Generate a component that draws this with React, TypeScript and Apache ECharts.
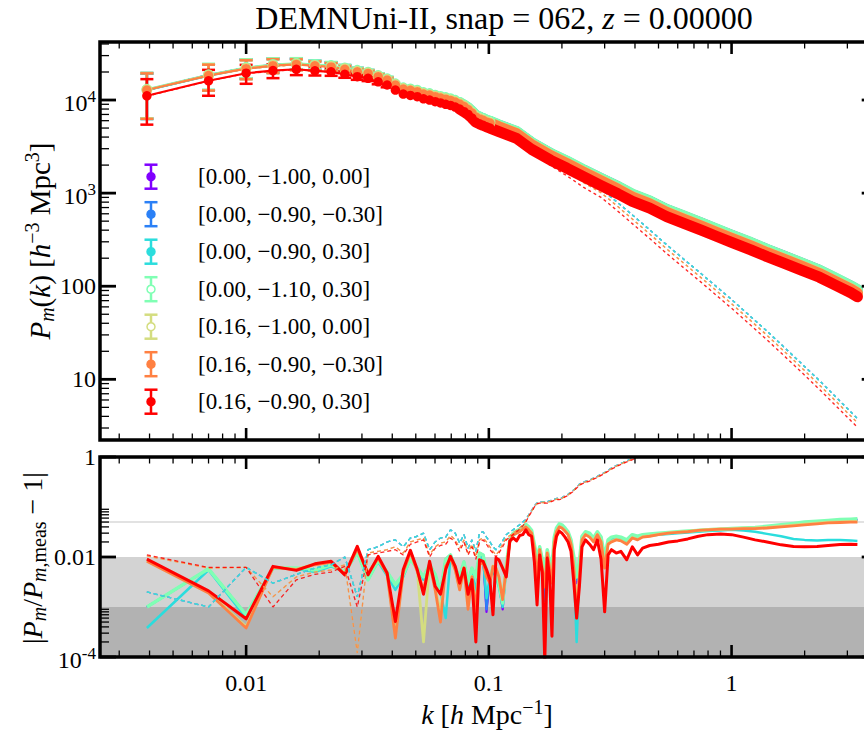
import { useEffect, useRef } from 'react';
import * as echarts from 'echarts';

const FONT = 'Liberation Serif';

// cosmologies: [M_nu, w0, wa]
const modelLabels = [
  '[0.00, −1.00, 0.00]',
  '[0.00, −0.90, −0.30]',
  '[0.00, −0.90, 0.30]',
  '[0.00, −1.10, 0.30]',
  '[0.16, −1.00, 0.00]',
  '[0.16, −0.90, −0.30]',
  '[0.16, −0.90, 0.30]',
];
const modelColors = ['#8000ff', '#2b80f6', '#2bdddd', '#80ffb4', '#d4dd80', '#ff8042', '#ff0000'];
const openMarker = [false, false, false, true, true, false, false];

// measured k bins (h/Mpc)
const kBins = [0.0039, 0.0070, 0.0100, 0.0129, 0.0161, 0.0192, 0.0224, 0.0255, 0.0287, 0.0318, 0.0350, 0.0381,
  0.0412, 0.0444, 0.0475, 0.0507, 0.0538, 0.0570, 0.0601, 0.0632, 0.0664, 0.0695, 0.0727, 0.0758, 0.0790, 0.0821,
  0.0852, 0.0884, 0.0915, 0.0947, 0.0978, 0.1010];
const kTopTail = [0.11, 0.13, 0.15, 0.18, 0.21, 0.245, 0.29, 0.34, 0.39, 0.46, 0.54, 0.64, 0.75, 0.87, 1.0, 1.2, 1.4,
  1.65, 1.95, 2.3, 2.65, 3.1, 3.3];
const kRatioTail = [0.104, 0.107, 0.110, 0.114, 0.118, 0.122, 0.126, 0.130, 0.134, 0.138, 0.142, 0.146, 0.150, 0.154,
  0.158, 0.162, 0.166, 0.170, 0.174, 0.178, 0.182, 0.186, 0.190, 0.195, 0.200, 0.206, 0.212, 0.218, 0.224, 0.230,
  0.236, 0.242, 0.25, 0.26, 0.27, 0.28, 0.29, 0.30, 0.31, 0.32, 0.335, 0.35, 0.37, 0.39, 0.41, 0.43, 0.46, 0.50,
  0.55, 0.60, 0.66, 0.73, 0.80, 0.90, 1.0, 1.12, 1.25, 1.4, 1.6, 1.8, 2.0, 2.25, 2.5, 2.8, 3.1, 3.3];
const kLinear = [0.0039, 0.0070, 0.0100, 0.0161, 0.0224, 0.0318, 0.0444, 0.0570, 0.0695, 0.0821, 0.0947, 0.11, 0.13,
  0.15, 0.18, 0.21, 0.245, 0.29, 0.34, 0.39, 0.46, 0.54, 0.64, 0.75, 0.87, 1.0, 1.2, 1.4, 1.65, 1.95, 2.3, 2.65, 3.1, 3.3];

// measured P_m(k) on kBins + kTopTail
const pkPurple = [12900, 18500, 22100, 23800, 24500, 23800, 23200, 21900, 20600, 19700, 18100, 16700, 14750,
  13350, 12950, 12550, 11900, 11600, 11150, 10800, 10500, 10200, 9800, 9300, 8750, 8150, 7450, 6800, 6500, 6270, 6020, 5860,
  5360, 4540, 3460, 2640, 2180, 1770, 1430, 1170, 965, 815, 665, 560, 476, 406, 352, 293, 247, 209, 176, 148, 123, 100, 91];
const pkBlue = [12800, 18400, 22000, 23650, 24400, 23650, 23050, 21750, 20500, 19600, 18000, 16650, 14700,
  13300, 12900, 12500, 11800, 11500, 11100, 10750, 10450, 10150, 9750, 9250, 8700, 8100, 7450, 6750, 6460, 6230, 5990, 5830,
  5330, 4520, 3450, 2630, 2170, 1760, 1420, 1160, 960, 812, 660, 556, 473, 404, 350, 291, 245, 208, 174, 147, 122, 99.5, 90.5];
const pkCyan = [12750, 18300, 21850, 23500, 24300, 23500, 22900, 21650, 20400, 19500, 17950, 16550, 14600,
  13250, 12850, 12450, 11750, 11450, 11000, 10700, 10400, 10100, 9700, 9200, 8650, 8100, 7400, 6700, 6430, 6200, 5960, 5800,
  5300, 4500, 3430, 2620, 2160, 1755, 1410, 1155, 955, 808, 657, 553, 470, 402, 348, 289, 244, 207, 173, 146, 121.5, 99, 90];
const pkMint = [13000, 18700, 22300, 24000, 24800, 24000, 23400, 22100, 20800, 19900, 18300, 16900, 14900,
  13500, 13100, 12700, 12000, 11700, 11250, 10900, 10600, 10300, 9900, 9400, 8850, 8250, 7550, 6850, 6560, 6330, 6080, 5920,
  5410, 4590, 3500, 2670, 2200, 1790, 1440, 1180, 975, 825, 670, 565, 480, 410, 355, 295, 249, 211, 177, 149, 124, 101, 92];
const pkYellow = [12900, 18450, 21900, 23600, 24300, 23500, 22900, 21600, 20300, 19500, 18000, 16550, 14650,
  13250, 12800, 12400, 11700, 11400, 10950, 10600, 10300, 10000, 9600, 9150, 8600, 8000, 7300, 6620, 6330, 6110, 5860, 5700,
  5190, 4390, 3340, 2545, 2090, 1700, 1365, 1110, 915, 773, 626, 525, 446, 381, 329, 274, 231, 196, 165, 138, 115, 94, 85];
const pkOrange = [12800, 18300, 21700, 23400, 24100, 23300, 22700, 21400, 20100, 19300, 17800, 16400, 14500,
  13100, 12700, 12300, 11600, 11300, 10850, 10500, 10200, 9900, 9500, 9050, 8500, 7900, 7250, 6550, 6270, 6050, 5800, 5650,
  5140, 4350, 3310, 2520, 2070, 1680, 1350, 1100, 905, 765, 620, 520, 442, 377, 326, 271, 229, 194, 163, 137, 114, 93, 84];
const pkRed = [11100, 16100, 19400, 20700, 21400, 20600, 20100, 18900, 17800, 17100, 15700, 14500, 12800,
  11600, 11200, 10850, 10300, 10000, 9600, 9300, 9000, 8750, 8400, 8000, 7500, 7000, 6400, 5800, 5550, 5350, 5150, 5000,
  4570, 3870, 2950, 2250, 1850, 1500, 1205, 985, 815, 690, 560, 470, 400, 342, 296, 246, 208, 176, 148, 125, 104, 85, 77];

// fractional 1-sigma errors of the first bins
const relErr = [0.51, 0.31, 0.23, 0.17, 0.135, 0.11, 0.095, 0.083, 0.074, 0.066, 0.06, 0.055];

// linear-theory spectra on kLinear
const pkLinMassless = [12900, 18700, 22200, 24600, 23200, 19700, 13300, 11500, 10100, 8100, 6150,
  5250, 4400, 3280, 2380, 1850, 1410, 1100, 790, 583, 403, 279, 192, 136, 98, 72, 47, 32.9, 22, 14.6, 9.7, 6.7, 4.46, 3.78];
const pkLinNu = [12700, 18200, 21600, 24000, 22600, 19200, 12900, 11050, 9750, 7800, 5900,
  5000, 4150, 3080, 2220, 1715, 1300, 1010, 717, 527, 364, 252, 174, 123, 88.5, 65, 42.6, 29.7, 19.9, 13.2, 8.7, 6.05, 4.03, 3.42];
const pkLinRed = [11000, 16000, 19300, 21250, 19950, 16950, 11450, 9850, 8600, 6900, 5250,
  4450, 3700, 2750, 1980, 1530, 1160, 900, 640, 470, 325, 225, 155, 110, 79, 58, 38, 26.5, 17.8, 11.8, 7.8, 5.4, 3.6, 3.05];

// |P_m / P_m,meas - 1| on kBins + kRatioTail
const ratioPurple = [0.001, 0.0058, 0.0007, 0.006, 0.006, 0.0055, 0.007, 0.005, 0.0125, 0.0035, 0.0085, 0.005, 0.0028,
  0.0045, 0.009, 0.006, 0.004, 0.007, 0.0045, 0.002, 0.009, 0.011, 0.006, 0.004, 0.008, 0.003, 0.006, 0.004, 0.012,
  0.011, 0.0008, 0.004,
  0.0055, 0.0045, 0.003, 0.0009, 0.0065, 0.021, 0.029, 0.032, 0.035, 0.039, 0.044, 0.039, 0.033, 0.017, 0.008, 0.0155,
  0.0085, 0.004, 0.0135, 0.0075, 0.0055, 0.024, 0.037, 0.045, 0.043, 0.037, 0.031, 0.021, 0.009, 0.003, 0.007, 0.025,
  0.031, 0.029, 0.023, 0.031, 0.024, 0.009, 0.021, 0.024, 0.025, 0.024, 0.021, 0.027, 0.025, 0.027, 0.028, 0.029, 0.03,
  0.031, 0.032, 0.033, 0.034, 0.035, 0.036, 0.037, 0.038, 0.04, 0.043, 0.046, 0.048, 0.05, 0.052, 0.054, 0.055, 0.055];
const ratioBlue = [0.001, 0.0058, 0.0007, 0.006, 0.006, 0.0055, 0.007, 0.005, 0.0125, 0.0035, 0.0085, 0.005, 0.0028,
  0.0045, 0.009, 0.006, 0.004, 0.007, 0.0045, 0.002, 0.009, 0.011, 0.006, 0.004, 0.008, 0.003, 0.006, 0.004, 0.012,
  0.011, 0.0009, 0.004,
  0.0058, 0.0048, 0.0029, 0.0011, 0.0068, 0.0215, 0.0295, 0.0325, 0.0355, 0.0395, 0.0445, 0.0395, 0.0335, 0.0175, 0.0085,
  0.0158, 0.0088, 0.0013, 0.0138, 0.0078, 0.0058, 0.0245, 0.0375, 0.0455, 0.0435, 0.0375, 0.0315, 0.0215, 0.0095, 0.0035,
  0.0075, 0.0255, 0.0315, 0.0295, 0.0235, 0.0315, 0.0245, 0.0095, 0.0215, 0.0245, 0.0255, 0.0245, 0.0215, 0.0275, 0.0255,
  0.0275, 0.0285, 0.0295, 0.0305, 0.0315, 0.0325, 0.0335, 0.0345, 0.0355, 0.0365, 0.0375, 0.0385, 0.0405, 0.0435, 0.0465,
  0.049, 0.051, 0.053, 0.055, 0.056, 0.056];
const ratioCyan = [0.00038, 0.0055, 0.0006, 0.006, 0.0058, 0.005, 0.0065, 0.005, 0.012, 0.0038, 0.008, 0.0042, 0.0022,
  0.004, 0.009, 0.006, 0.0035, 0.0065, 0.004, 0.002, 0.0006, 0.01, 0.006, 0.003, 0.007, 0.002, 0.005, 0.002, 0.011, 0.009,
  0.0015, 0.004,
  0.005, 0.004, 0.0025, 0.001, 0.006, 0.02, 0.027, 0.03, 0.033, 0.037, 0.042, 0.037, 0.031, 0.016, 0.007, 0.015, 0.008,
  0.003, 0.013, 0.007, 0.005, 0.023, 0.035, 0.043, 0.041, 0.035, 0.03, 0.02, 0.005, 0.0002, 0.005, 0.024, 0.03, 0.027,
  0.022, 0.03, 0.022, 0.008, 0.02, 0.023, 0.024, 0.023, 0.02, 0.026, 0.024, 0.026, 0.027, 0.028, 0.029, 0.03, 0.031,
  0.032, 0.033, 0.034, 0.035, 0.034, 0.032, 0.029, 0.026, 0.023, 0.022, 0.0215, 0.022, 0.022, 0.0215, 0.021];
const ratioMint = [0.001, 0.0058, 0.0007, 0.006, 0.006, 0.0055, 0.007, 0.005, 0.0125, 0.0035, 0.0085, 0.005, 0.0028,
  0.0045, 0.009, 0.006, 0.004, 0.007, 0.0045, 0.002, 0.009, 0.011, 0.006, 0.004, 0.008, 0.003, 0.006, 0.004, 0.012, 0.011,
  0.005, 0.004,
  0.006, 0.005, 0.003, 0.0012, 0.007, 0.022, 0.03, 0.033, 0.036, 0.04, 0.045, 0.04, 0.034, 0.018, 0.009, 0.016, 0.009,
  0.005, 0.014, 0.008, 0.006, 0.025, 0.038, 0.046, 0.044, 0.038, 0.032, 0.022, 0.01, 0.004, 0.008, 0.026, 0.032, 0.03,
  0.024, 0.032, 0.025, 0.01, 0.022, 0.025, 0.026, 0.025, 0.022, 0.028, 0.026, 0.028, 0.029, 0.03, 0.031, 0.032, 0.033,
  0.034, 0.035, 0.036, 0.037, 0.038, 0.039, 0.041, 0.044, 0.047, 0.05, 0.052, 0.054, 0.056, 0.057, 0.058];
const ratioYellow = [0.0084, 0.002, 0.0004, 0.0063, 0.0057, 0.0071, 0.0079, 0.0046, 0.0148, 0.0046, 0.0097, 0.0046,
  0.0003, 0.0051, 0.0128, 0.0053, 0.0002, 0.0077, 0.0023, 0.0008, 0.0066, 0.0097, 0.0056, 0.0023, 0.0061, 0.0011, 0.0041,
  0.0011, 0.0072, 0.0081, 0.0042, 0.0031,
  0.0066, 0.0061, 0.0041, 0.0015, 0.0062, 0.0205, 0.0285, 0.0305, 0.0325, 0.0365, 0.0405, 0.0355, 0.0305, 0.0155, 0.0042,
  0.0142, 0.0062, 0.0027, 0.0123, 0.0062, 0.0032, 0.0205, 0.0325, 0.0405, 0.0385, 0.0335, 0.0285, 0.0185, 0.0062, 0.0009,
  0.0042, 0.0225, 0.0285, 0.0255, 0.0205, 0.0285, 0.0205, 0.0062, 0.0185, 0.0205, 0.0225, 0.0215, 0.0185, 0.0245, 0.0225,
  0.0255, 0.0265, 0.0285, 0.0305, 0.0315, 0.0325, 0.0345, 0.0355, 0.0365, 0.0367, 0.0378, 0.038, 0.0392, 0.0412, 0.0433,
  0.0455, 0.0475, 0.0495, 0.0505, 0.0515, 0.0515];
const ratioOrange = [0.0082, 0.0019, 0.00038, 0.0062, 0.0056, 0.007, 0.0078, 0.0045, 0.0145, 0.0048, 0.0095, 0.0045,
  0.00024, 0.005, 0.0125, 0.0052, 0.0022, 0.0075, 0.0022, 0.0005, 0.0065, 0.0095, 0.0055, 0.0022, 0.006, 0.0009, 0.004,
  0.0009, 0.007, 0.008, 0.004, 0.003,
  0.0065, 0.006, 0.004, 0.0014, 0.006, 0.02, 0.028, 0.03, 0.032, 0.036, 0.04, 0.035, 0.03, 0.015, 0.004, 0.014, 0.006,
  0.0025, 0.012, 0.006, 0.003, 0.02, 0.032, 0.04, 0.038, 0.033, 0.028, 0.018, 0.006, 0.0006, 0.004, 0.022, 0.028, 0.025,
  0.02, 0.028, 0.02, 0.006, 0.018, 0.02, 0.022, 0.021, 0.018, 0.024, 0.022, 0.025, 0.026, 0.028, 0.03, 0.031, 0.032,
  0.034, 0.035, 0.036, 0.036, 0.037, 0.037, 0.038, 0.04, 0.042, 0.044, 0.046, 0.048, 0.049, 0.05, 0.05];
const ratioRed = [0.0091, 0.0021, 0.00058, 0.0065, 0.0054, 0.0073, 0.0082, 0.0044, 0.0163, 0.0044, 0.0103, 0.0048,
  0.00051, 0.0056, 0.0136, 0.0056, 0.0018, 0.0082, 0.0026, 0.0018, 0.0056, 0.0103, 0.0065, 0.003, 0.006, 0.0018, 0.0035,
  0.0002, 0.0088, 0.0082, 0.0056, 0.0035,
  0.0007, 0.0095, 0.0088, 0.006, 0.004, 0.021, 0.024, 0.021, 0.027, 0.028, 0.035, 0.028, 0.026, 0.008, 0.0011, 0.011,
  0.005, 0.00008, 0.0095, 0.004, 0.00026, 0.014, 0.026, 0.033, 0.03, 0.025, 0.02, 0.013, 0.003, 0.0006, 0.0025, 0.016,
  0.022, 0.018, 0.014, 0.022, 0.009, 0.0008, 0.011, 0.014, 0.012, 0.013, 0.0088, 0.016, 0.011, 0.015, 0.017, 0.018, 0.02,
  0.021, 0.023, 0.026, 0.028, 0.029, 0.028, 0.025, 0.022, 0.02, 0.0175, 0.0163, 0.016, 0.0163, 0.017, 0.0178, 0.018, 0.0178];

// linear theory against the measurement (leaves the panel above k ~ 0.45)
const ratioLinMassless = [0.002, 0.001, 0.0062, 0.003, 0.0045, 0.006, 0.007, 0.01, 0.0016, 0.014, 0.016, 0.02, 0.022,
  0.016, 0.024, 0.026, 0.03, 0.014, 0.02, 0.024, 0.025, 0.035, 0.03, 0.019, 0.028, 0.015, 0.022, 0.013, 0.03, 0.032, 0.025, 0.02,
  0.016, 0.014, 0.016, 0.021, 0.028, 0.032, 0.035, 0.04, 0.044, 0.05, 0.056, 0.07, 0.085, 0.105, 0.12, 0.126, 0.127,
  0.127, 0.127, 0.132, 0.137, 0.142, 0.148, 0.148, 0.153, 0.168, 0.179, 0.2, 0.22, 0.25, 0.285, 0.305, 0.325, 0.345, 0.38,
  0.41, 0.45, 0.49, 0.54, 0.6, 0.67, 0.74, 0.84, 0.92, 1.02, 1.13, 1.3];
const ratioLinNu = [0.0105, 0.006, 0.0062, 0.0016, 0.004, 0.005, 0.0055, 0.007, 0.00012, 0.012, 0.013, 0.014, 0.016,
  0.012, 0.02, 0.022, 0.024, 0.011, 0.016, 0.019, 0.02, 0.027, 0.022, 0.015, 0.022, 0.012, 0.018, 0.01, 0.022, 0.024, 0.02, 0.016,
  0.013, 0.011, 0.013, 0.018, 0.024, 0.027, 0.03, 0.034, 0.038, 0.044, 0.052, 0.067, 0.082, 0.102, 0.117, 0.123, 0.123,
  0.123, 0.123, 0.128, 0.133, 0.138, 0.144, 0.144, 0.149, 0.164, 0.174, 0.195, 0.215, 0.245, 0.277, 0.297, 0.317, 0.337,
  0.37, 0.4, 0.44, 0.48, 0.53, 0.585, 0.655, 0.725, 0.82, 0.9, 1.0, 1.1, 1.27];
const ratioLinRed = [0.011, 0.0062, 0.0062, 0.001, 0.0035, 0.0045, 0.005, 0.0065, 0.001, 0.011, 0.012, 0.013, 0.014,
  0.011, 0.018, 0.02, 0.022, 0.01, 0.015, 0.017, 0.018, 0.024, 0.02, 0.013, 0.02, 0.011, 0.016, 0.009, 0.02, 0.022, 0.018, 0.014,
  0.012, 0.01, 0.012, 0.016, 0.022, 0.025, 0.028, 0.032, 0.036, 0.042, 0.05, 0.065, 0.08, 0.1, 0.115, 0.12, 0.12, 0.12,
  0.12, 0.125, 0.13, 0.135, 0.14, 0.14, 0.145, 0.16, 0.17, 0.19, 0.21, 0.24, 0.27, 0.29, 0.31, 0.33, 0.36, 0.39, 0.43,
  0.47, 0.52, 0.57, 0.64, 0.71, 0.8, 0.88, 0.98, 1.08, 1.25];

// shaded accuracy bands and reference level in the lower panel
const shadeBands = [[1e-3, 1e-2], [1e-4, 1e-3]];
const shadeColors = ['#d3d3d3', '#b2b2b2'];
const refLevel = 0.05;

// axis ticks
const xMajorTicks = [0.01, 0.1, 1];
const xMajorLabels = ['0.01', '0.1', '1'];
const xMinorTicks = [0.003, 0.004, 0.005, 0.006, 0.007, 0.008, 0.009, 0.02, 0.03, 0.04, 0.05, 0.06, 0.07, 0.08, 0.09,
  0.2, 0.3, 0.4, 0.5, 0.6, 0.7, 0.8, 0.9, 2, 3];
const pMajorTicks = [10, 100, 1000, 10000];
const pMajorLabels = ['10', '100', '10{sup|3}', '10{sup|4}'];
const pMinorTicks = [3, 4, 5, 6, 7, 8, 9, 20, 30, 40, 50, 60, 70, 80, 90, 200, 300, 400, 500, 600, 700, 800, 900,
  2000, 3000, 4000, 5000, 6000, 7000, 8000, 9000, 20000, 30000, 40000];
const rMajorTicks = [1e-4, 0.01, 1];
const rMajorLabels = ['10{sup|-4}', '0.01', '1'];
const rMinorTicks = [2e-4, 3e-4, 4e-4, 5e-4, 6e-4, 7e-4, 8e-4, 9e-4, 0.02, 0.03, 0.04, 0.05, 0.06, 0.07, 0.08, 0.09];

const K_MIN = 0.0025;
const K_MAX = 4;
const P_MIN = 2.23;
const P_MAX = 42000;
const R_MIN = 1e-4;
const R_MAX = 1;

const kTop = kBins.concat(kTopTail);
const kRatio = kBins.concat(kRatioTail);
const pkModels = [pkPurple, pkBlue, pkCyan, pkMint, pkYellow, pkOrange, pkRed];
const pkLinear = [pkLinMassless, pkLinMassless, pkLinMassless, pkLinMassless, pkLinNu, pkLinNu, pkLinRed];
const ratioModels = [ratioPurple, ratioBlue, ratioCyan, ratioMint, ratioYellow, ratioOrange, ratioRed];
const ratioLinear = [ratioLinMassless, ratioLinMassless, ratioLinMassless, ratioLinMassless, ratioLinNu, ratioLinNu, ratioLinRed];
const linearOrder = [0, 1, 3, 2, 4, 5, 6];
const ratioWidths = [2.2, 2.2, 2.5, 3.5, 2.8, 2.8, 3];
const BAND_FROM = 23;

function richStyles(fs: number) {
  const small = Math.round(fs * 0.7);
  return {
    i: { fontFamily: FONT, fontSize: fs, fontStyle: 'italic' },
    sup: { fontFamily: FONT, fontSize: small, padding: [0, 0, Math.round(fs * 0.55), 0] },
    sub: { fontFamily: FONT, fontSize: small, padding: [Math.round(fs * 0.45), 0, 0, 0] },
    subi: { fontFamily: FONT, fontSize: small, fontStyle: 'italic', padding: [Math.round(fs * 0.45), 0, 0, 0] },
  };
}

function textStyle(text: string, fs: number, align: string, valign = 'middle') {
  return {
    text,
    fill: '#000',
    fontFamily: FONT,
    fontSize: fs,
    align,
    verticalAlign: valign,
    textAlign: align,
    textVerticalAlign: valign,
    rich: richStyles(fs),
  };
}

function lineEl(x1: number, y1: number, x2: number, y2: number, w: number, c = '#000') {
  return { type: 'line', shape: { x1, y1, x2, y2 }, style: { stroke: c, lineWidth: w } };
}

// frame, inward ticks on all four sides and tick labels of one panel
function frameSeries(gi: number, yMin: number, yMax: number, yMaj: number[], yMajLab: string[], yMinor: number[], xLabels: boolean) {
  return {
    type: 'custom',
    xAxisIndex: gi,
    yAxisIndex: gi,
    z: 10,
    silent: true,
    clip: false,
    data: [[K_MIN, yMin]],
    renderItem: (_p: any, api: any) => {
      const bl = api.coord([K_MIN, yMin]);
      const tr = api.coord([K_MAX, yMax]);
      const ch: any[] = [];
      const xt = xMajorTicks.map((v, i) => ({ v, major: true, label: xMajorLabels[i] }))
        .concat(xMinorTicks.map((v) => ({ v, major: false, label: '' })));
      xt.forEach((t) => {
        const x = api.coord([t.v, yMin])[0];
        const len = t.major ? 12 : 6.5;
        const w = t.major ? 2.6 : 1.3;
        ch.push(lineEl(x, bl[1], x, bl[1] - len, w));
        ch.push(lineEl(x, tr[1], x, tr[1] + len, w));
        if (xLabels && t.label) {
          ch.push({ type: 'text', x, y: bl[1] + 26, style: textStyle(t.label, 24, 'center') });
        }
      });
      const yt = yMaj.map((v, i) => ({ v, major: true, label: yMajLab[i] }))
        .concat(yMinor.map((v) => ({ v, major: false, label: '' })));
      yt.forEach((t) => {
        const y = api.coord([K_MIN, t.v])[1];
        const len = t.major ? 16 : 9;
        const w = t.major ? 2.8 : 1.3;
        ch.push(lineEl(bl[0], y, bl[0] + len, y, w));
        ch.push(lineEl(tr[0], y, tr[0] - len, y, w));
        if (t.label) {
          const dy = t.label.indexOf('sup') >= 0 ? 3 : 0;
          ch.push({ type: 'text', x: bl[0] - 4, y: y + dy, style: textStyle(t.label, 24, 'right') });
        }
      });
      ch.push({
        type: 'rect',
        shape: { x: bl[0], y: tr[1], width: tr[0] - bl[0], height: bl[1] - tr[1] },
        style: { fill: 'none', stroke: '#000', lineWidth: 3.5 },
      });
      return { type: 'group', children: ch };
    },
  };
}

function buildOption() {
  const series: any[] = [];

  // lower panel shading and reference level
  series.push({
    type: 'custom',
    xAxisIndex: 1,
    yAxisIndex: 1,
    z: 1,
    silent: true,
    clip: false,
    data: shadeBands.map((b) => [K_MIN, b[0], b[1]]).concat([[K_MIN, refLevel, refLevel]]),
    renderItem: (params: any, api: any) => {
      const lo = api.value(1);
      const hi = api.value(2);
      const a = api.coord([K_MIN, hi]);
      const b = api.coord([K_MAX, lo]);
      if (params.dataIndex < shadeBands.length) {
        return {
          type: 'rect',
          shape: { x: a[0], y: a[1], width: b[0] - a[0], height: b[1] - a[1] },
          style: { fill: shadeColors[params.dataIndex] },
        };
      }
      return lineEl(a[0], a[1], b[0], a[1], 1.5, '#d9d9d9');
    },
  });

  // upper panel: linear theory (dashed)
  linearOrder.forEach((m) => {
    series.push({
      type: 'line',
      xAxisIndex: 0,
      yAxisIndex: 0,
      z: 2,
      silent: true,
      symbol: 'none',
      data: kLinear.map((k, j) => [k, pkLinear[m][j]]),
      lineStyle: { color: modelColors[m], width: 1.4, type: [3, 3], opacity: 0.85 },
    });
  });

  // upper panel: measured spectra with error bars
  pkModels.forEach((pk, m) => {
    const col = modelColors[m];
    series.push({
      type: 'custom',
      xAxisIndex: 0,
      yAxisIndex: 0,
      z: 3,
      silent: true,
      data: relErr.map((e, j) => [kBins[j], pk[j], pk[j] * e]),
      renderItem: (_p: any, api: any) => {
        const k = api.value(0);
        const p = api.value(1);
        const e = api.value(2);
        const hi = api.coord([k, p + e]);
        const lo = api.coord([k, p - e]);
        return {
          type: 'group',
          children: [
            lineEl(hi[0], hi[1], lo[0], lo[1], 2.5, col),
            lineEl(hi[0] - 6.5, hi[1], hi[0] + 6.5, hi[1], 2.5, col),
            lineEl(lo[0] - 6.5, lo[1], lo[0] + 6.5, lo[1], 2.5, col),
          ],
        };
      },
    });
    series.push({
      type: 'line',
      xAxisIndex: 0,
      yAxisIndex: 0,
      z: 3,
      silent: true,
      symbol: 'circle',
      symbolSize: 9.5,
      showSymbol: true,
      showAllSymbol: true,
      data: kBins.map((k, j) => [k, pk[j]]),
      lineStyle: { color: col, width: 2.2 },
      itemStyle: { color: openMarker[m] ? '#ffffff' : col, borderColor: col, borderWidth: openMarker[m] ? 1.5 : 0 },
    });
    series.push({
      type: 'line',
      xAxisIndex: 0,
      yAxisIndex: 0,
      z: 3,
      silent: true,
      symbol: 'none',
      data: kTop.slice(BAND_FROM).map((k, j) => [k, pk[BAND_FROM + j]]),
      lineStyle: { color: col, width: 11, cap: 'round', join: 'round' },
    });
  });

  // lower panel: fits against the measurement
  ratioModels.forEach((r, m) => {
    series.push({
      type: 'line',
      xAxisIndex: 1,
      yAxisIndex: 1,
      z: 3,
      silent: true,
      symbol: 'none',
      data: kRatio.map((k, j) => [k, r[j]]),
      lineStyle: { color: modelColors[m], width: ratioWidths[m], join: 'round' },
    });
  });
  linearOrder.forEach((m) => {
    const r = ratioLinear[m];
    series.push({
      type: 'line',
      xAxisIndex: 1,
      yAxisIndex: 1,
      z: 4,
      silent: true,
      symbol: 'none',
      data: r.map((v, j) => [kRatio[j], v]),
      lineStyle: { color: modelColors[m], width: 1.3, type: [4, 3], opacity: 0.85 },
    });
  });

  series.push(frameSeries(0, P_MIN, P_MAX, pMajorTicks, pMajorLabels, pMinorTicks, false));
  series.push(frameSeries(1, R_MIN, R_MAX, rMajorTicks, rMajorLabels, rMinorTicks, true));

  const hiddenAxis = {
    type: 'log',
    logBase: 10,
    show: false,
    axisLine: { show: false },
    axisTick: { show: false },
    axisLabel: { show: false },
    splitLine: { show: false },
  };

  const legendEls = modelLabels.map((lab, i) => {
    const c = modelColors[i];
    return {
      type: 'group',
      x: 151,
      y: 176.7 + 37.5 * i,
      silent: true,
      children: [
        lineEl(0, -12, 0, 12, 2.5, c),
        lineEl(-6.5, -12, 6.5, -12, 2.5, c),
        lineEl(-6.5, 12, 6.5, 12, 2.5, c),
        { type: 'circle', shape: { cx: 0, cy: 0, r: 4 }, style: { fill: openMarker[i] ? '#ffffff' : c, stroke: c, lineWidth: 1.5 } },
        { type: 'text', x: 47, y: 0, style: textStyle(lab, 23, 'left') },
      ],
    };
  });

  return {
    animation: false,
    backgroundColor: '#ffffff',
    grid: [
      { left: 100, top: 42, width: 777.7, height: 398, show: false },
      { left: 100, top: 457, width: 777.7, height: 200, show: false },
    ],
    xAxis: [
      { ...hiddenAxis, gridIndex: 0, min: K_MIN, max: K_MAX },
      { ...hiddenAxis, gridIndex: 1, min: K_MIN, max: K_MAX },
    ],
    yAxis: [
      { ...hiddenAxis, gridIndex: 0, min: P_MIN, max: P_MAX },
      { ...hiddenAxis, gridIndex: 1, min: R_MIN, max: R_MAX },
    ],
    series,
    graphic: [
      {
        type: 'text',
        x: 504,
        y: 18,
        z: 100,
        style: textStyle('DEMNUni-II, snap = 062, {i|z} = 0.00000', 32, 'center'),
      },
      {
        type: 'text',
        x: 40,
        y: 241,
        rotation: Math.PI / 2,
        z: 100,
        style: textStyle('{i|P}{subi|m}({i|k}) [{i|h}{sup|−3} Mpc{sup|3}]', 29, 'center'),
      },
      {
        type: 'text',
        x: 32,
        y: 558,
        rotation: Math.PI / 2,
        z: 100,
        style: textStyle('|{i|P}{subi|m}/{i|P}{subi|m}{sub|,meas} − 1|', 28, 'center'),
      },
      {
        type: 'text',
        x: 487,
        y: 714,
        z: 100,
        style: textStyle('{i|k} [{i|h} Mpc{sup|−1}]', 28, 'center'),
      },
      ...legendEls.map((g) => ({ ...g, z: 100 })),
    ],
  };
}

export default function App() {
  const ref = useRef<HTMLDivElement>(null);
  useEffect(() => {
    if (!ref.current) return;
    const chart = echarts.init(ref.current, undefined, { renderer: 'svg' });
    chart.setOption(buildOption() as any);
    return () => chart.dispose();
  }, []);
  return (
    <div style={{ position: 'fixed', left: 0, top: 0, width: 864, height: 730, overflow: 'hidden', background: '#fff' }}>
      <div ref={ref} style={{ width: 900, height: 730 }} />
    </div>
  );
}
